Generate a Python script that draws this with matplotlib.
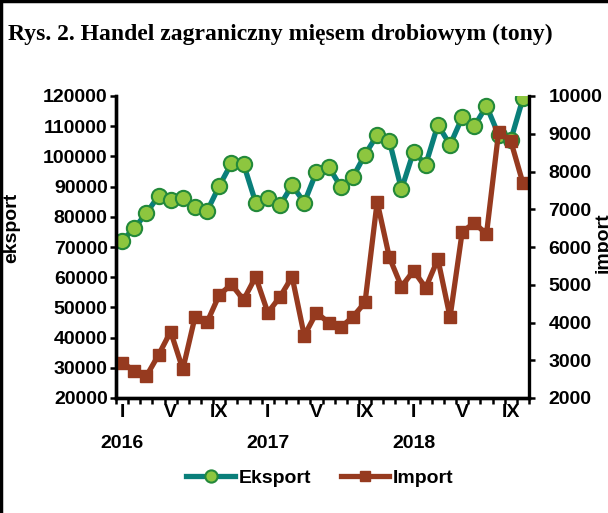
import numpy as np
from matplotlib import pyplot as plt
from matplotlib.lines import Line2D

# miesieczne dane I 2016 - X 2018 (tony)
eksport = [72100, 76200, 81200, 86900, 85600, 86300, 83300, 81900, 90200, 97700,
           97500, 84700, 86300, 83800, 90500, 84700, 94900, 96600, 90000, 93100,
           100600, 107100, 105200, 89100, 101600, 97300, 110500, 103800, 112900, 110000,
           116700, 107100, 105400, 119200]
imp = [2940, 2720, 2580, 3140, 3760, 2760, 4140, 4010, 4730, 5010,
       4600, 5210, 4260, 4680, 5210, 3650, 4260, 4000, 3870, 4150,
       4530, 7200, 5730, 4950, 5370, 4920, 5680, 4140, 6400, 6640,
       6340, 9050, 8810, 7690]
etykiety = ['I\n2016', 'V', 'IX', 'I\n2017', 'V', 'IX', 'I\n2018', 'V', 'IX']
poz_etykiet = [0, 4, 8, 12, 16, 20, 24, 28, 32]

plt.rcParams['font.family'] = 'Liberation Sans'
plt.rcParams['font.weight'] = 'bold'
plt.rcParams['font.size'] = 14

kol_eks = '#0a7f7a'
kol_pkt = '#8dc63f'
kol_brz = '#23893a'
kol_imp = '#963a1f'

fig = plt.figure(figsize=(6.08, 5.13), dpi=100)
ax1 = fig.add_axes([116/608, 1-398/513, (529-116)/608, (398-96)/513])
ax2 = ax1.twinx()

x = np.arange(len(eksport))
l1, = ax1.plot(x, eksport, color=kol_eks, lw=3.8, marker='o', ms=11,
               mfc=kol_pkt, mec=kol_brz, mew=1.5)
l2, = ax2.plot(x, imp, color=kol_imp, lw=3.8, marker='s', ms=9,
               mfc=kol_imp, mec=kol_imp)

ax1.set_xlim(-0.5, len(x)-0.5)
ax1.set_ylim(20000, 120000)
ax1.set_yticks(np.arange(20000, 120001, 10000))
ax2.set_ylim(2000, 10000)
ax2.set_yticks(np.arange(2000, 10001, 1000))

# kreski miedzy miesiacami, podpisy jako minor ticks
ax1.set_xticks(np.arange(-0.5, len(x), 1.0))
ax1.set_xticklabels([])
ax1.set_xticks(poz_etykiet, minor=True)
ax1.set_xticklabels(etykiety, minor=True, linespacing=2.1)
ax1.tick_params(axis='x', which='major', direction='out', length=4, width=1.8)
ax1.tick_params(axis='x', which='minor', length=0, pad=4)
ax1.tick_params(axis='y', direction='out', length=4, width=1.8, pad=2)
ax2.tick_params(axis='y', direction='out', length=4, width=1.8, pad=10)

for a in (ax1, ax2):
    a.spines['top'].set_visible(False)
    for s in ('left', 'right', 'bottom'):
        a.spines[s].set_linewidth(2.4)
ax1.spines['right'].set_visible(False)

fig.text(12/608, 1-228/513, 'eksport', rotation=90, ha='center', va='center')
fig.text(603/608, 1-243/513, 'import', rotation=90, ha='center', va='center')

fig.text(8/608, 1-34/513, 'Rys. 2. Handel zagraniczny mięsem drobiowym (tony)',
         family='Liberation Serif', fontsize=17, weight='bold', ha='left', va='center')

fig.legend([l1, l2], ['Eksport', 'Import'], loc='center', ncol=2,
           bbox_to_anchor=(320/608, 1-478/513), frameon=False,
           handlelength=2.5, handletextpad=0.2, columnspacing=1.5, markerscale=0.8)

# ramka wykresu (lewa i gorna krawedz)
fig.add_artist(Line2D([0.002, 0.002], [0, 1], transform=fig.transFigure, color='k', lw=2.5))
fig.add_artist(Line2D([0, 1], [0.998, 0.998], transform=fig.transFigure, color='k', lw=2.5))

fig.savefig('out.png', dpi=100)
